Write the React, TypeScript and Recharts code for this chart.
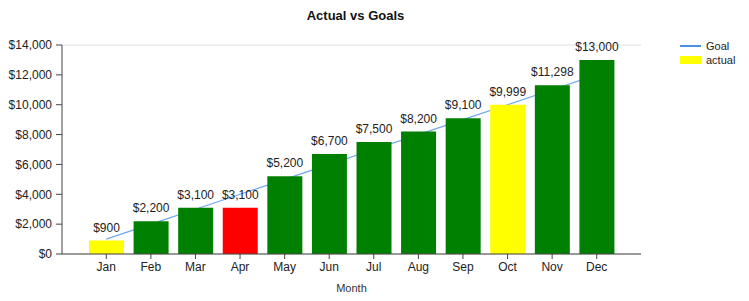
import {
  ComposedChart,
  Bar,
  Line,
  XAxis,
  YAxis,
  CartesianGrid,
  LabelList,
  Cell,
} from "recharts";

const months = ["Jan", "Feb", "Mar", "Apr", "May", "Jun", "Jul", "Aug", "Sep", "Oct", "Nov", "Dec"];
const actual = [900, 2200, 3100, 3100, 5200, 6700, 7500, 8200, 9100, 9999, 11298, 13000];
const goal = [1000, 2000, 3000, 4000, 5000, 6000, 7000, 8000, 9000, 10000, 11000, 12000];
const barColors = ["#ffff00", "#008000", "#008000", "#ff0000", "#008000", "#008000", "#008000", "#008000", "#008000", "#ffff00", "#008000", "#008000"];
const yTicks = [0, 2000, 4000, 6000, 8000, 10000, 12000, 14000];

const data = months.map((m, i) => ({ month: m, actual: actual[i], goal: goal[i] }));

const money = (v: number) => "$" + Number(v).toLocaleString("en-US");

const FONT = "'Liberation Sans', Arial, sans-serif";
const W = 733;
const H = 285;
const MARGIN = { top: 37, right: 100, left: 0, bottom: 0 };

function LegendBox() {
  return (
    <div
      style={{
        position: "absolute",
        top: 31,
        left: 672,
        fontFamily: FONT,
        fontSize: 11,
        color: "#222",
        lineHeight: "14px",
      }}
    >
      <div style={{ display: "flex", alignItems: "center" }}>
        <span style={{ display: "inline-block", width: 21, height: 2, background: "#4a90e2", marginRight: 5 }} />
        Goal
      </div>
      <div style={{ display: "flex", alignItems: "center" }}>
        <span style={{ display: "inline-block", width: 21, height: 8, background: "#ffff00", marginRight: 5 }} />
        actual
      </div>
    </div>
  );
}

export default function App() {
  return (
    <div style={{ position: "relative", width: W, height: H, fontFamily: FONT }}>
      {/* back layer: grid + goal line, so the bars cover the line */}
      <div style={{ position: "absolute", top: 0, left: 0 }}>
        <ComposedChart width={W} height={H} data={data} margin={MARGIN}>
          <CartesianGrid vertical={false} stroke="#e0e0e0" />
          <XAxis dataKey="month" scale="band" padding={{ left: 22, right: 22 }} height={39} axisLine={false} tickLine={false} tick={false} />
          <YAxis width={54} domain={[0, 14000]} ticks={yTicks} axisLine={false} tickLine={false} tick={false} />
          <Line dataKey="goal" type="linear" stroke="#6ea6f0" strokeWidth={1.2} dot={false} isAnimationActive={false} />
        </ComposedChart>
      </div>
      {/* front layer: bars, labels, axes */}
      <div style={{ position: "absolute", top: 0, left: 0 }}>
        <ComposedChart width={W} height={H} data={data} margin={MARGIN}>
          <XAxis
            dataKey="month"
            padding={{ left: 22, right: 22 }}
            height={39}
            tickSize={5}
            tickMargin={3}
            stroke="#444"
            tick={{ fill: "#222", fontSize: 12, fontFamily: FONT }}
            label={{ value: "Month", position: "insideBottom", offset: 1, fill: "#333", fontSize: 11, fontFamily: FONT }}
          />
          <YAxis
            width={54}
            domain={[0, 14000]}
            ticks={yTicks}
            tickFormatter={money}
            tickSize={6}
            tickMargin={4}
            stroke="#444"
            tick={{ fill: "#222", fontSize: 12, fontFamily: FONT }}
          />
          <Bar dataKey="actual" barSize={35} isAnimationActive={false}>
            {data.map((d, i) => (
              <Cell key={d.month} fill={barColors[i]} />
            ))}
            <LabelList dataKey="actual" position="top" offset={9} formatter={(v: any) => money(v)} fill="#222" fontSize={12} fontFamily={FONT} />
          </Bar>
        </ComposedChart>
      </div>
      <div
        style={{
          position: "absolute",
          top: 0,
          left: 0,
          width: 695,
          textAlign: "center",
          fontWeight: "bold",
          fontSize: 13,
          lineHeight: "15px",
          color: "#111",
        }}
      >
        Actual vs Goals
      </div>
      <LegendBox />
    </div>
  );
}
